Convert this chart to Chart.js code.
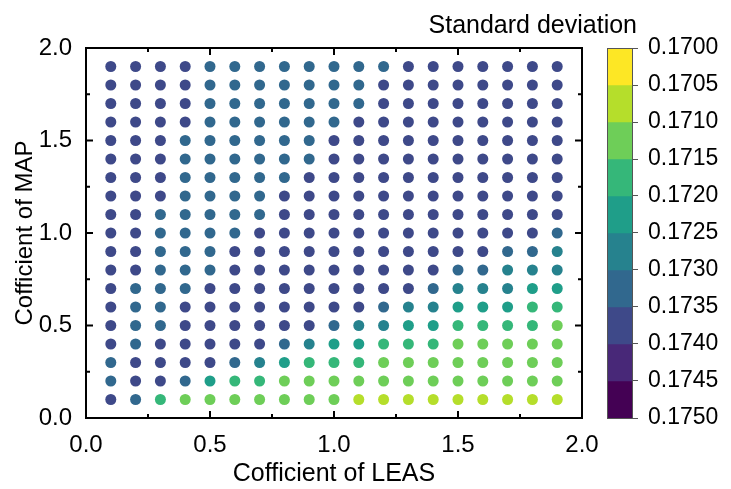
<!DOCTYPE html>
<html>
<head>
<meta charset="utf-8">
<script src="https://cdn.jsdelivr.net/npm/chart.js@4.4.1/dist/chart.umd.min.js"></script>
<style>
  html, body { margin: 0; padding: 0; background: #fff; }
  #wrap { position: relative; width: 731px; height: 489px; }
  #wrap canvas { position: absolute; left: 0; top: 0; }
</style>
</head>
<body>
<div id="wrap">
  <canvas id="plot" width="731" height="489"></canvas>
  <canvas id="cbar" width="731" height="489"></canvas>
</div>
<script>
// grid of coefficients
var leasValues = [0.1, 0.2, 0.3, 0.4, 0.5, 0.6, 0.7, 0.8, 0.9, 1.0, 1.1, 1.2, 1.3, 1.4, 1.5, 1.6, 1.7, 1.8, 1.9];
var mapValues = [1.9, 1.8, 1.7, 1.6, 1.5, 1.4, 1.3, 1.2, 1.1, 1.0, 0.9, 0.8, 0.7, 0.6, 0.5, 0.4, 0.3, 0.2, 0.1];

// standard deviation, one row per MAP value (top row = 1.9)
var stdRows = [
  [0.1738, 0.1738, 0.1738, 0.1738, 0.1733, 0.1733, 0.1733, 0.1733, 0.1733, 0.1733, 0.1733, 0.1733, 0.1738, 0.1738, 0.1738, 0.1738, 0.1738, 0.1738, 0.1738],
  [0.1738, 0.1738, 0.1738, 0.1738, 0.1733, 0.1733, 0.1733, 0.1733, 0.1733, 0.1733, 0.1733, 0.1738, 0.1738, 0.1738, 0.1738, 0.1738, 0.1738, 0.1738, 0.1738],
  [0.1738, 0.1738, 0.1738, 0.1738, 0.1733, 0.1733, 0.1733, 0.1733, 0.1733, 0.1733, 0.1733, 0.1738, 0.1738, 0.1738, 0.1738, 0.1738, 0.1738, 0.1738, 0.1738],
  [0.1738, 0.1738, 0.1738, 0.1738, 0.1733, 0.1733, 0.1733, 0.1733, 0.1733, 0.1733, 0.1738, 0.1738, 0.1738, 0.1738, 0.1738, 0.1738, 0.1738, 0.1738, 0.1738],
  [0.1738, 0.1738, 0.1738, 0.1733, 0.1733, 0.1733, 0.1733, 0.1733, 0.1733, 0.1738, 0.1738, 0.1738, 0.1738, 0.1738, 0.1738, 0.1738, 0.1738, 0.1738, 0.1738],
  [0.1738, 0.1738, 0.1738, 0.1733, 0.1733, 0.1733, 0.1733, 0.1733, 0.1733, 0.1738, 0.1738, 0.1738, 0.1738, 0.1738, 0.1738, 0.1738, 0.1738, 0.1738, 0.1738],
  [0.1738, 0.1738, 0.1738, 0.1733, 0.1733, 0.1733, 0.1733, 0.1733, 0.1738, 0.1738, 0.1738, 0.1738, 0.1738, 0.1738, 0.1738, 0.1738, 0.1738, 0.1738, 0.1738],
  [0.1738, 0.1738, 0.1738, 0.1733, 0.1733, 0.1733, 0.1733, 0.1738, 0.1738, 0.1738, 0.1738, 0.1738, 0.1738, 0.1738, 0.1738, 0.1738, 0.1738, 0.1738, 0.1738],
  [0.1738, 0.1738, 0.1733, 0.1733, 0.1733, 0.1733, 0.1733, 0.1738, 0.1738, 0.1738, 0.1738, 0.1738, 0.1738, 0.1738, 0.1738, 0.1738, 0.1738, 0.1738, 0.1738],
  [0.1738, 0.1738, 0.1733, 0.1733, 0.1733, 0.1733, 0.1738, 0.1738, 0.1738, 0.1738, 0.1738, 0.1738, 0.1738, 0.1738, 0.1738, 0.1738, 0.1738, 0.1738, 0.1733],
  [0.1738, 0.1738, 0.1733, 0.1733, 0.1733, 0.1738, 0.1738, 0.1738, 0.1738, 0.1738, 0.1738, 0.1738, 0.1738, 0.1738, 0.1738, 0.1738, 0.1733, 0.1733, 0.1728],
  [0.1738, 0.1738, 0.1733, 0.1733, 0.1733, 0.1738, 0.1738, 0.1738, 0.1738, 0.1738, 0.1738, 0.1738, 0.1738, 0.1738, 0.1733, 0.1733, 0.1728, 0.1728, 0.1728],
  [0.1738, 0.1733, 0.1733, 0.1733, 0.1738, 0.1738, 0.1738, 0.1738, 0.1738, 0.1738, 0.1738, 0.1738, 0.1738, 0.1733, 0.1728, 0.1728, 0.1728, 0.1723, 0.1723],
  [0.1738, 0.1733, 0.1733, 0.1738, 0.1738, 0.1738, 0.1738, 0.1738, 0.1738, 0.1738, 0.1738, 0.1733, 0.1728, 0.1728, 0.1723, 0.1723, 0.1723, 0.1718, 0.1718],
  [0.1738, 0.1733, 0.1733, 0.1738, 0.1738, 0.1738, 0.1738, 0.1738, 0.1738, 0.1733, 0.1728, 0.1728, 0.1723, 0.1723, 0.1718, 0.1718, 0.1718, 0.1718, 0.1713],
  [0.1738, 0.1733, 0.1738, 0.1738, 0.1738, 0.1738, 0.1738, 0.1733, 0.1728, 0.1723, 0.1723, 0.1718, 0.1718, 0.1718, 0.1713, 0.1713, 0.1713, 0.1713, 0.1713],
  [0.1733, 0.1738, 0.1738, 0.1738, 0.1738, 0.1733, 0.1728, 0.1723, 0.1718, 0.1718, 0.1718, 0.1713, 0.1713, 0.1713, 0.1713, 0.1713, 0.1713, 0.1713, 0.1713],
  [0.1733, 0.1738, 0.1738, 0.1733, 0.1723, 0.1718, 0.1718, 0.1713, 0.1713, 0.1713, 0.1713, 0.1713, 0.1713, 0.1713, 0.1713, 0.1713, 0.1713, 0.1713, 0.1713],
  [0.1738, 0.1733, 0.1718, 0.1713, 0.1713, 0.1713, 0.1713, 0.1713, 0.1713, 0.1713, 0.1708, 0.1708, 0.1708, 0.1708, 0.1708, 0.1708, 0.1708, 0.1708, 0.1708]
];

// colour bar
var levels = [0.1700, 0.1705, 0.1710, 0.1715, 0.1720, 0.1725, 0.1730, 0.1735, 0.1740, 0.1745, 0.1750];
var levelColors = ['#fde725', '#b5de2b', '#6ece58', '#35b779', '#1f9e89', '#26828e', '#31688e', '#3e4989', '#482878', '#440154'];
var axisTicks = [0, 0.5, 1.0, 1.5, 2.0];

Chart.defaults.font.family = '"Liberation Sans", Arial, sans-serif';
Chart.defaults.color = '#000';

function colorFor(v) {
  for (var i = 0; i < levelColors.length; i++) {
    if (v >= levels[i] && v < levels[i + 1]) return levelColors[i];
  }
  return levelColors[levelColors.length - 1];
}

var points = [];
var colors = [];
for (var r = 0; r < mapValues.length; r++) {
  for (var c = 0; c < leasValues.length; c++) {
    points.push({ x: leasValues[c], y: mapValues[r] });
    colors.push(colorFor(stdRows[r][c]));
  }
}

// frame + inward ticks on all four sides
var frameTicks = {
  id: 'frameTicks',
  afterDatasetsDraw: function (chart) {
    var ctx = chart.ctx;
    var a = chart.chartArea;
    var xs = chart.scales.x, ys = chart.scales.y;
    ctx.save();
    ctx.strokeStyle = '#000';
    ctx.lineWidth = 2;
    ctx.strokeRect(a.left, a.top, a.right - a.left, a.bottom - a.top);
    for (var k = 0; k <= 8; k++) {
      var v = k * 0.25;
      var len = (k % 2 === 0) ? 7 : 4;
      var px = xs.getPixelForValue(v);
      var py = ys.getPixelForValue(v);
      ctx.beginPath();
      ctx.moveTo(px, a.bottom); ctx.lineTo(px, a.bottom - len);
      ctx.moveTo(px, a.top); ctx.lineTo(px, a.top + len);
      ctx.moveTo(a.left, py); ctx.lineTo(a.left + len, py);
      ctx.moveTo(a.right, py); ctx.lineTo(a.right - len, py);
      ctx.stroke();
    }
    ctx.restore();
  }
};

new Chart(document.getElementById('plot'), {
  type: 'scatter',
  data: {
    datasets: [{
      data: points,
      pointBackgroundColor: colors,
      pointBorderWidth: 0,
      pointRadius: 5.5,
      pointHoverRadius: 5.5
    }]
  },
  options: {
    responsive: false,
    animation: false,
    layout: { padding: { left: 0, right: 149, top: 48, bottom: 0 } },
    plugins: { legend: { display: false }, tooltip: { enabled: false } },
    scales: {
      x: {
        type: 'linear', min: 0, max: 2,
        grid: { display: false },
        border: { display: false },
        afterFit: function (s) { s.height = 71; },
        afterBuildTicks: function (s) { s.ticks = axisTicks.map(function (v) { return { value: v }; }); },
        ticks: { font: { size: 24 }, padding: 5, maxRotation: 0, callback: function (v) { return v.toFixed(1); } },
        title: { display: true, text: 'Cofficient of LEAS', font: { size: 25 }, padding: { top: 0, bottom: 0 } }
      },
      y: {
        type: 'linear', min: 0, max: 2,
        grid: { display: false },
        border: { display: false },
        afterFit: function (s) { s.width = 86; },
        afterBuildTicks: function (s) { s.ticks = axisTicks.map(function (v) { return { value: v }; }); },
        ticks: { font: { size: 24 }, padding: 6, callback: function (v) { return v.toFixed(1); } },
        title: { display: true, text: 'Cofficient of MAP', font: { size: 24 }, padding: { top: 11, bottom: 0 } }
      }
    }
  },
  plugins: [frameTicks]
});

// colour bar as floating stacked bars
var barOutline = {
  id: 'barOutline',
  afterDraw: function (chart) {
    var ctx = chart.ctx;
    var a = chart.chartArea;
    ctx.save();
    ctx.strokeStyle = '#555';
    ctx.lineWidth = 1;
    ctx.strokeRect(a.left + 0.5, a.top + 0.5, a.right - a.left - 1, a.bottom - a.top);
    ctx.fillStyle = '#000';
    ctx.font = '25px "Liberation Sans", Arial, sans-serif';
    ctx.textAlign = 'right';
    ctx.textBaseline = 'middle';
    ctx.fillText('Standard deviation', a.right + 4, a.top - 22);
    ctx.restore();
  }
};

var barSets = [];
for (var i = 0; i < levelColors.length; i++) {
  barSets.push({
    data: [[levels[i], levels[i + 1]]],
    backgroundColor: levelColors[i],
    borderWidth: 0,
    barPercentage: 1,
    categoryPercentage: 1,
    grouped: false
  });
}

new Chart(document.getElementById('cbar'), {
  type: 'bar',
  data: { labels: ['sd'], datasets: barSets },
  options: {
    responsive: false,
    animation: false,
    layout: { padding: { left: 607, right: 0, top: 48, bottom: 71 } },
    plugins: { legend: { display: false }, tooltip: { enabled: false } },
    scales: {
      x: { display: false },
      y: {
        position: 'right',
        min: levels[0], max: levels[levels.length - 1],
        reverse: true,
        afterFit: function (s) { s.width = 98; },
        afterBuildTicks: function (s) { s.ticks = levels.map(function (v) { return { value: v }; }); },
        grid: { drawOnChartArea: false, drawTicks: true, tickLength: 5, color: '#555', lineWidth: 1 },
        border: { display: false },
        ticks: { font: { size: 23 }, padding: 10, callback: function (v) { return v.toFixed(4); } }
      }
    }
  },
  plugins: [barOutline]
});
</script>
</body>
</html>
